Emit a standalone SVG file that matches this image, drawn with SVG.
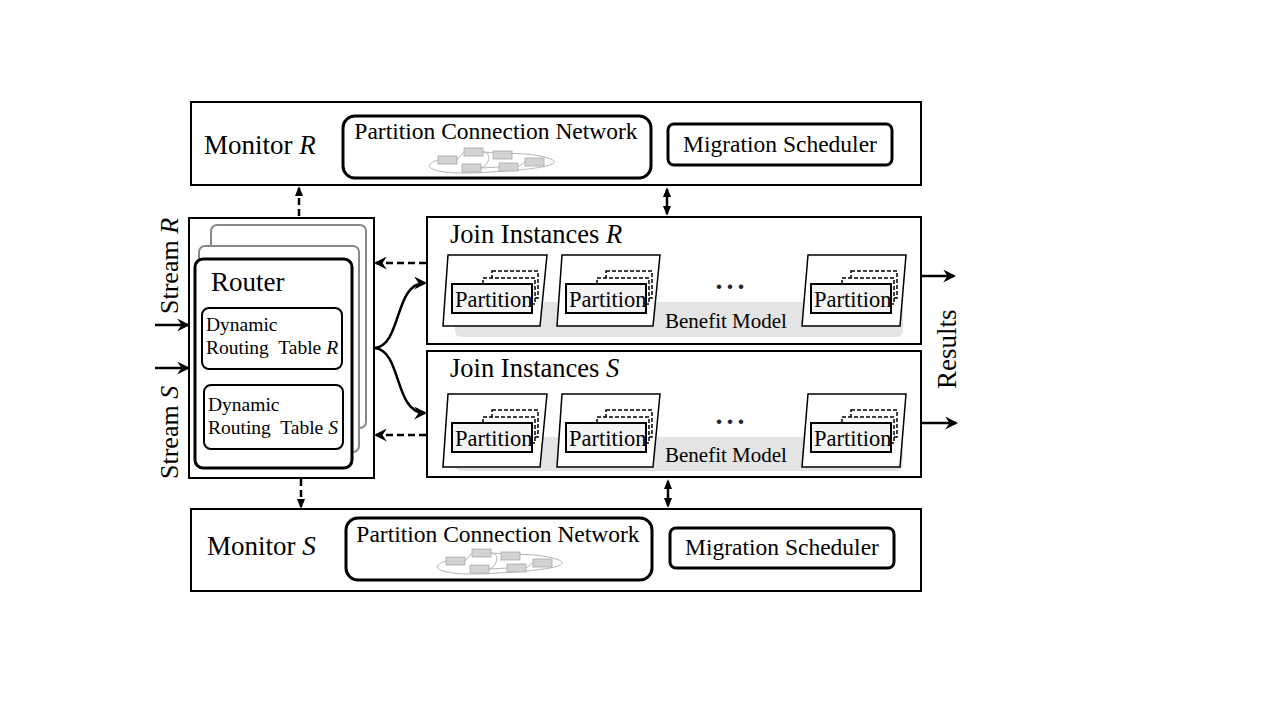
<svg xmlns="http://www.w3.org/2000/svg" width="1280" height="720" viewBox="0 0 1280 720">
<style>
text{font-family:"Liberation Serif","Times New Roman",serif;fill:#000}
.box{fill:#fff;stroke:#000;stroke-width:2}
.rbox{fill:#fff;stroke:#000;stroke-width:3}
.tbl{fill:#fff;stroke:#000;stroke-width:2}
.card{fill:#fff;stroke:#000;stroke-width:1.5}
.dash{fill:#fff;stroke:#000;stroke-width:1.5;stroke-dasharray:4 2}
.part{fill:#f4f4f4;stroke:#000;stroke-width:2}
.band{fill:#e4e4e4}
.conn{fill:none;stroke:#000;stroke-width:2.5}
.dconn{fill:none;stroke:#000;stroke-width:2.5;stroke-dasharray:7 4}
.net rect{fill:#d3d3d3;stroke:#a8a8a8;stroke-width:0.8}
.net path{fill:none;stroke:#b5b5b5;stroke-width:1}
.mon{font-size:27px}
.pcn{font-size:23.5px}
.ji{font-size:26.5px}
.t19{font-size:19.5px}
.pt{font-size:22.5px}
.bm{font-size:21px}
.dots{font-size:28px;font-weight:bold;letter-spacing:4px;fill:#223}
</style>
<defs>
<marker id="arr" viewBox="0 0 12 12" refX="10" refY="6" markerWidth="13" markerHeight="13" markerUnits="userSpaceOnUse" orient="auto-start-reverse">
<path d="M0,0 L12,6 L0,12 L4,6 z" fill="#000"/>
</marker>
<marker id="arrs" viewBox="0 0 12 12" refX="10" refY="6" markerWidth="10" markerHeight="10" markerUnits="userSpaceOnUse" orient="auto-start-reverse">
<path d="M0,1 L12,6 L0,11 z" fill="#000"/>
</marker>
<g id="net" class="net">
<path d="M438,160 C415,168 440,176 490,172 C530,170 570,165 548,158 C530,152 505,154 483,152"/>
<path d="M457,160 L464,152 M483,152 C492,152 490,165 481,168 M512,155 C505,155 500,150 493,155 M518,167 L525,162 M481,168 L499,167"/>
<rect x="438" y="156" width="19" height="8"/>
<rect x="464" y="148" width="19" height="8"/>
<rect x="493" y="151" width="19" height="8"/>
<rect x="525" y="158" width="19" height="8"/>
<rect x="462" y="164" width="19" height="8"/>
<rect x="499" y="163" width="19" height="8"/>
</g>
<g id="partcard">
<rect x="492" y="271" width="46" height="27" class="dash"/>
<rect x="483" y="278" width="52" height="26" class="dash"/>
<rect x="452" y="284" width="80" height="29" class="part"/>
<text x="455" y="307" class="pt">Partition</text>
</g>
</defs>

<g id="monitorR">
<rect x="191" y="102" width="730" height="83" class="box"/>
<text x="204" y="154" class="mon">Monitor <tspan font-style="italic">R</tspan></text>
<rect x="343" y="116" width="308" height="62" rx="12" class="rbox"/>
<text x="496" y="139" class="pcn" text-anchor="middle">Partition Connection Network</text>
<use href="#net"/>
<rect x="668" y="124" width="224" height="41" rx="6" class="rbox"/>
<text x="780" y="152" class="pcn" text-anchor="middle">Migration Scheduler</text>
</g>

<g id="monitorS">
<rect x="191" y="509" width="730" height="82" class="box"/>
<text x="207" y="555" class="mon">Monitor <tspan font-style="italic">S</tspan></text>
<rect x="346" y="518" width="306" height="62" rx="12" class="rbox"/>
<text x="498" y="542" class="pcn" text-anchor="middle">Partition Connection Network</text>
<use href="#net" transform="translate(8,401)"/>
<rect x="670" y="528" width="224" height="40" rx="6" class="rbox"/>
<text x="782" y="555" class="pcn" text-anchor="middle">Migration Scheduler</text>
</g>

<g id="router">
<rect x="189" y="218" width="185" height="260" class="box"/>
<rect x="211" y="225" width="155" height="203" rx="6" fill="#fff" stroke="#888" stroke-width="2"/>
<rect x="199" y="246" width="160" height="206" rx="6" fill="#fff" stroke="#888" stroke-width="2"/>
<rect x="195" y="259" width="157" height="209" rx="8" class="rbox"/>
<text x="211" y="291" class="mon">Router</text>
<rect x="202" y="308" width="140" height="61" rx="7" class="tbl"/>
<text x="206" y="331" class="t19">Dynamic</text>
<text x="206" y="354" class="t19" xml:space="preserve">Routing  Table <tspan font-style="italic">R</tspan></text>
<rect x="204" y="385" width="139" height="64" rx="7" class="tbl"/>
<text x="208" y="411" class="t19">Dynamic</text>
<text x="208" y="434" class="t19" xml:space="preserve">Routing  Table <tspan font-style="italic">S</tspan></text>
</g>

<g id="joinR">
<rect x="427" y="217" width="494" height="127" class="box"/>
<text x="450" y="243" class="ji">Join Instances <tspan font-style="italic">R</tspan></text>
<rect x="455" y="302" width="448" height="35" rx="6" class="band"/>
<text x="726" y="328" class="bm" text-anchor="middle">Benefit Model</text>
<polygon points="448,255 547,255 540,326 443,326" class="card"/>
<use href="#partcard"/>
<polygon points="562,255 660,255 653,326 557,326" class="card"/>
<use href="#partcard" transform="translate(114,0)"/>
<polygon points="808,255 906,255 900,326 802,326" class="card"/>
<use href="#partcard" transform="translate(359,0)"/>
<text x="732" y="289" class="dots" text-anchor="middle">...</text>
</g>

<g id="joinS">
<rect x="427" y="351" width="494" height="126" class="box"/>
<text x="450" y="377" class="ji">Join Instances <tspan font-style="italic">S</tspan></text>
<rect x="455" y="437" width="448" height="34" rx="6" class="band"/>
<text x="726" y="462" class="bm" text-anchor="middle">Benefit Model</text>
<polygon points="448,394 547,394 540,467 443,467" class="card"/>
<use href="#partcard" transform="translate(0,139)"/>
<polygon points="562,394 660,394 653,467 557,467" class="card"/>
<use href="#partcard" transform="translate(114,139)"/>
<polygon points="808,394 906,394 900,467 802,467" class="card"/>
<use href="#partcard" transform="translate(359,139)"/>
<text x="732" y="424" class="dots" text-anchor="middle">...</text>
</g>

<g id="labels">
<text transform="translate(178,314) rotate(-90)" font-size="26">Stream <tspan font-style="italic">R</tspan></text>
<text transform="translate(178,479) rotate(-90)" font-size="26">Stream <tspan font-style="italic">S</tspan></text>
<text transform="translate(956,389) rotate(-90)" font-size="27">Results</text>
</g>

<g id="connectors">
<line x1="155" y1="325" x2="188" y2="325" class="conn" stroke-width="3" marker-end="url(#arr)"/>
<line x1="155" y1="368" x2="188" y2="368" class="conn" stroke-width="3" marker-end="url(#arr)"/>
<line x1="922" y1="276" x2="954" y2="276" class="conn" stroke-width="3" marker-end="url(#arr)"/>
<line x1="922" y1="423" x2="956" y2="423" class="conn" stroke-width="3" marker-end="url(#arr)"/>
<line x1="299" y1="216" x2="299" y2="188" class="dconn" marker-end="url(#arrs)"/>
<line x1="301" y1="479" x2="301" y2="507" class="dconn" marker-end="url(#arrs)"/>
<line x1="667" y1="189" x2="667" y2="214" class="conn" marker-start="url(#arrs)" marker-end="url(#arrs)"/>
<line x1="668" y1="481" x2="668" y2="506" class="conn" marker-start="url(#arrs)" marker-end="url(#arrs)"/>
<line x1="426" y1="263" x2="376" y2="263" class="dconn" marker-end="url(#arr)"/>
<line x1="426" y1="435" x2="376" y2="435" class="dconn" marker-end="url(#arr)"/>
<path d="M375,348 C402,345 394,283 425,283" class="conn" marker-end="url(#arr)"/>
<path d="M375,348 C402,351 394,413 425,413" class="conn" marker-end="url(#arr)"/>
</g>
</svg>
